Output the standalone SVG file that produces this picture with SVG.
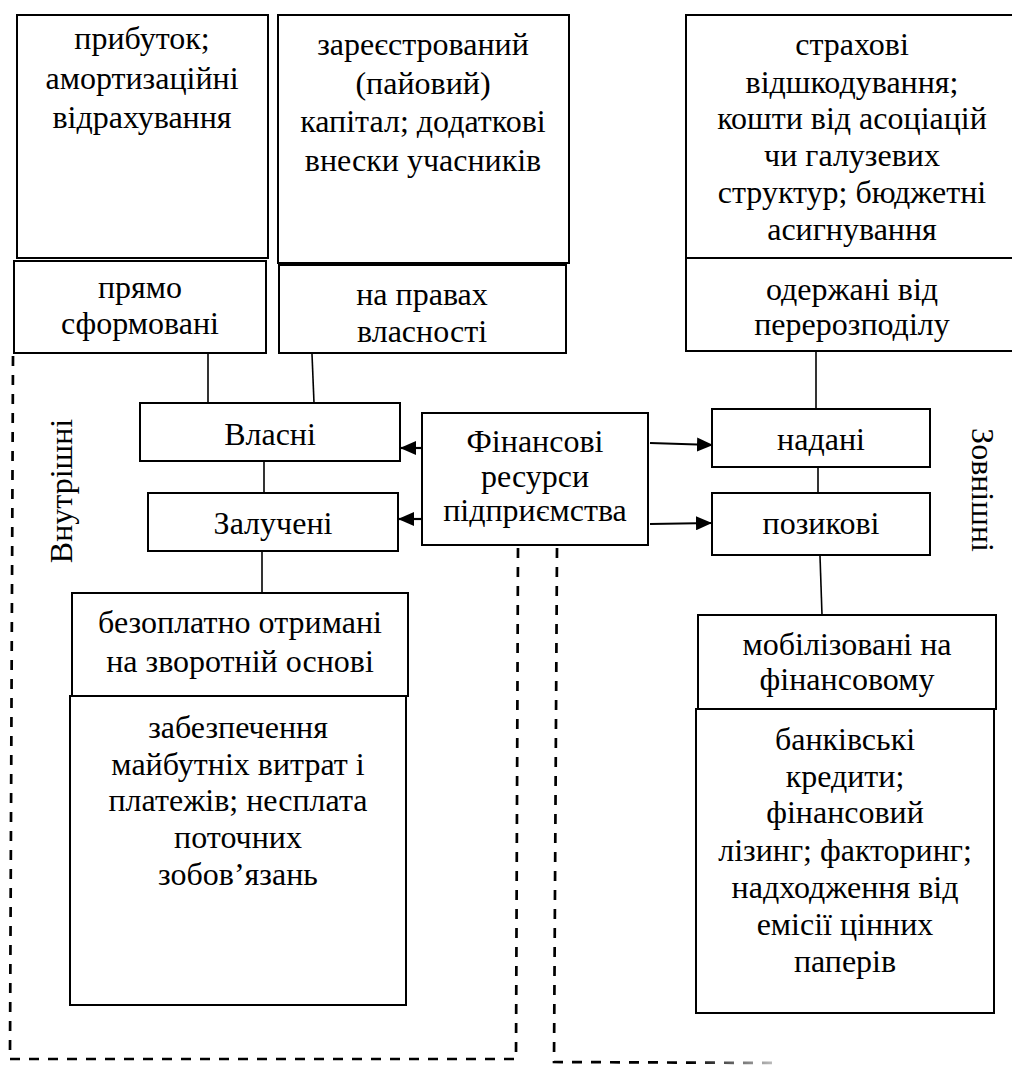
<svg xmlns="http://www.w3.org/2000/svg" width="1012" height="1066" viewBox="0 0 1012 1066">
<style>
.box{fill:#fff;stroke:#000;stroke-width:2}
.t{font-family:"Liberation Serif","Times New Roman",serif;font-size:32px;fill:#000;text-anchor:middle}
.ln{stroke:#000;stroke-width:1.6;fill:none}
.ar{stroke:#000;stroke-width:2.2;fill:none}
.dash{stroke:#000;stroke-width:2.7;fill:none;stroke-dasharray:10 9}
</style>
<defs>
<marker id="ah" viewBox="0 0 16 14" refX="16" refY="7" markerWidth="16" markerHeight="14" markerUnits="userSpaceOnUse" orient="auto">
<path d="M0,0 L16,7 L0,14 Z" fill="#000"/>
</marker>
<linearGradient id="fade" gradientUnits="userSpaceOnUse" x1="553" y1="0" x2="780" y2="0">
<stop offset="0" stop-color="#000"/>
<stop offset="0.6" stop-color="#000"/>
<stop offset="1" stop-color="#ccc"/>
</linearGradient>
</defs>
<g id="connectors">
<line class="ln" x1="208" y1="354" x2="208" y2="403"/>
<line class="ln" x1="312" y1="354" x2="314" y2="403"/>
<line class="ln" x1="264" y1="462" x2="264" y2="493"/>
<line class="ln" x1="262" y1="552" x2="262" y2="593"/>
<line class="ln" x1="816" y1="351" x2="816" y2="409"/>
<line class="ln" x1="818" y1="467" x2="818" y2="493"/>
<line class="ln" x1="820" y1="556" x2="822" y2="615"/>
<line class="ar" x1="422" y1="448" x2="400" y2="448" marker-end="url(#ah)"/>
<line class="ar" x1="422" y1="519" x2="398" y2="519" marker-end="url(#ah)"/>
<line class="ar" x1="650" y1="443" x2="713" y2="445" marker-end="url(#ah)"/>
<line class="ar" x1="650" y1="524" x2="712" y2="523" marker-end="url(#ah)"/>
<path class="dash" d="M13,356 L10,1053 M10,1059 L516,1059 L518,548"/>
<path class="dash" d="M557,548 L554,1062 L780,1063" style="stroke:url(#fade)"/>
</g>
<g id="n-prybutok">
<rect class="box" x="17" y="15" width="251" height="243"/>
<text class="t"><tspan x="142" y="49">прибуток;</tspan><tspan x="142" y="89">амортизаційні</tspan><tspan x="142" y="128">відрахування</tspan></text>
</g>
<g id="n-kapital">
<rect class="box" x="278" y="15" width="291" height="248"/>
<text class="t"><tspan x="423" y="55">зареєстрований</tspan><tspan x="423" y="94">(пайовий)</tspan><tspan x="423" y="132">капітал; додаткові</tspan><tspan x="423" y="171">внески учасників</tspan></text>
</g>
<g id="n-strakhovi">
<rect class="box" x="686" y="15" width="330" height="243"/>
<text class="t"><tspan x="852" y="55">страхові</tspan><tspan x="852" y="93">відшкодування;</tspan><tspan x="852" y="129">кошти від асоціацій</tspan><tspan x="852" y="166">чи галузевих</tspan><tspan x="852" y="203">структур; бюджетні</tspan><tspan x="852" y="240">асигнування</tspan></text>
</g>
<g id="n-priamo">
<rect class="box" x="14" y="261" width="252" height="92"/>
<text class="t"><tspan x="140" y="298">прямо</tspan><tspan x="140" y="334">сформовані</tspan></text>
</g>
<g id="n-pravakh">
<rect class="box" x="279" y="265" width="287" height="88"/>
<text class="t"><tspan x="422" y="305">на правах</tspan><tspan x="422" y="342">власності</tspan></text>
</g>
<g id="n-oderzhani">
<rect class="box" x="686" y="258" width="330" height="93"/>
<text class="t"><tspan x="852" y="300">одержані від</tspan><tspan x="852" y="335">перерозподілу</tspan></text>
</g>
<g id="n-vlasni">
<rect class="box" x="140" y="403" width="260" height="58"/>
<text class="t" x="270" y="445">Власні</text>
</g>
<g id="n-zalucheni">
<rect class="box" x="148" y="493" width="250" height="58"/>
<text class="t" x="273" y="534">Залучені</text>
</g>
<g id="n-finresursy">
<rect class="box" x="422" y="413" width="226" height="132"/>
<text class="t"><tspan x="535" y="452">Фінансові</tspan><tspan x="535" y="487">ресурси</tspan><tspan x="535" y="521">підприємства</tspan></text>
</g>
<g id="n-nadani">
<rect class="box" x="712" y="409" width="218" height="58"/>
<text class="t" x="821" y="450">надані</text>
</g>
<g id="n-pozykovi">
<rect class="box" x="712" y="493" width="218" height="62"/>
<text class="t" x="821" y="534">позикові</text>
</g>
<g id="n-bezoplatno">
<rect class="box" x="72" y="593" width="336" height="103"/>
<text class="t"><tspan x="240" y="633">безоплатно отримані</tspan><tspan x="240" y="672">на зворотній основі</tspan></text>
</g>
<g id="n-zabezpechennia">
<rect class="box" x="70" y="696" width="336" height="309"/>
<text class="t"><tspan x="238" y="738">забезпечення</tspan><tspan x="238" y="775">майбутніх витрат і</tspan><tspan x="238" y="811">платежів; несплата</tspan><tspan x="238" y="848">поточних</tspan><tspan x="238" y="885">зобов’язань</tspan></text>
</g>
<g id="n-mobilizovani">
<rect class="box" x="698" y="615" width="298" height="94"/>
<text class="t"><tspan x="847" y="655">мобілізовані на</tspan><tspan x="847" y="690">фінансовому</tspan></text>
</g>
<g id="n-bankivski">
<rect class="box" x="696" y="709" width="298" height="304"/>
<text class="t"><tspan x="845" y="750">банківські</tspan><tspan x="845" y="787">кредити;</tspan><tspan x="845" y="823">фінансовий</tspan><tspan x="845" y="861">лізинг; факторинг;</tspan><tspan x="845" y="898">надходження від</tspan><tspan x="845" y="935">емісії цінних</tspan><tspan x="845" y="972">паперів</tspan></text>
</g>
<g id="label-vnutrishni">
<text class="t" transform="translate(72,491) rotate(-90)" x="0" y="0">Внутрішні</text>
</g>
<g id="label-zovnishni">
<text class="t" transform="translate(972,490) rotate(90)" x="0" y="0">Зовнішні</text>
</g>
</svg>
